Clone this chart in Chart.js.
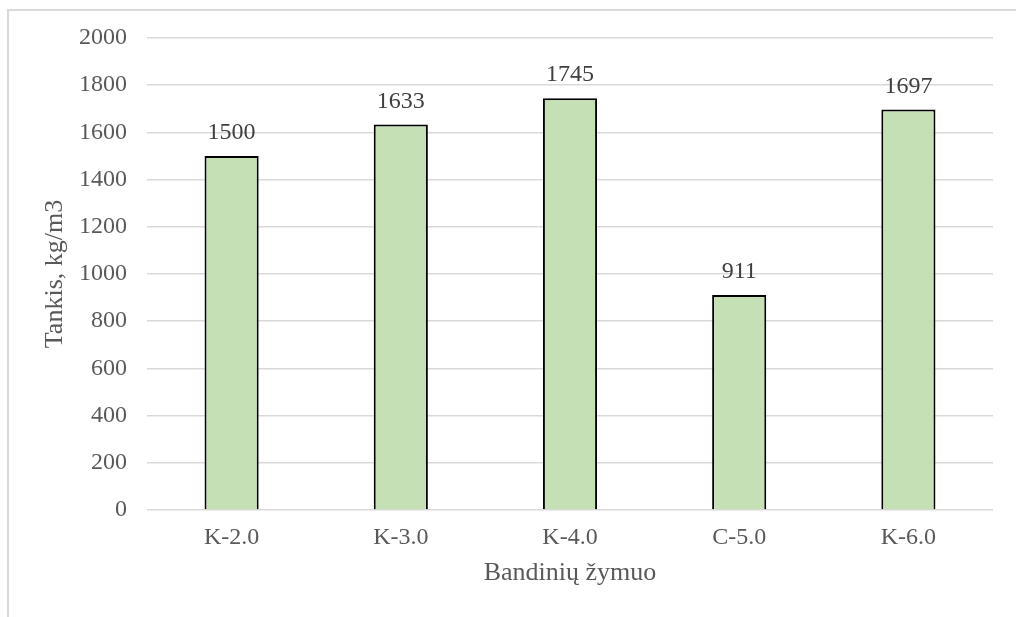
<!DOCTYPE html>
<html>
<head>
<meta charset="utf-8">
<script src="https://cdn.jsdelivr.net/npm/chart.js@4.4.1/dist/chart.umd.min.js"></script>
<style>
  html, body { margin: 0; padding: 0; background: #fff; }
  #frame {
    position: absolute; left: 7px; top: 9px; right: 0; bottom: 0;
    border-left: 2px solid #d9d9d9; border-top: 2px solid #d9d9d9;
  }
  #wrap { position: absolute; left: 0; top: 0; width: 1016px; height: 617px; }
</style>
</head>
<body>
<div id="frame"></div>
<div id="wrap"><canvas id="density-chart" width="1016" height="617"></canvas></div>
<script>
  'use strict';

  const samples = ['K-2.0', 'K-3.0', 'K-4.0', 'C-5.0', 'K-6.0'];
  const density = [1500, 1633, 1745, 911, 1697];
  const yMin = 0;
  const yMax = 2000;
  const yStep = 200;

  const serif = '"Liberation Serif", "Times New Roman", serif';

  // value printed above each bar
  const valueLabels = {
    id: 'valueLabels',
    afterDatasetsDraw(chart) {
      const ctx = chart.ctx;
      const meta = chart.getDatasetMeta(0);
      ctx.save();
      ctx.font = '24px ' + serif;
      ctx.fillStyle = '#404040';
      ctx.textAlign = 'center';
      ctx.textBaseline = 'alphabetic';
      meta.data.forEach((bar, i) => {
        ctx.fillText(String(density[i]), bar.x, bar.y - 17);
      });
      ctx.restore();
    }
  };

  new Chart(document.getElementById('density-chart'), {
    type: 'bar',
    data: {
      labels: samples,
      datasets: [{
        data: density,
        backgroundColor: '#c5e0b4',
        borderColor: '#000000',
        borderWidth: 2,
        barPercentage: 1,
        categoryPercentage: 0.32
      }]
    },
    options: {
      responsive: false,
      animation: false,
      layout: {
        padding: { left: 0, top: 38, right: 23, bottom: 0 }
      },
      plugins: {
        legend: { display: false },
        tooltip: { enabled: false }
      },
      scales: {
        x: {
          grid: { display: false },
          border: { display: false },
          ticks: {
            color: '#595959',
            font: { family: serif, size: 24 },
            padding: 5
          },
          title: {
            display: true,
            text: 'Bandinių žymuo',
            color: '#595959',
            font: { family: serif, size: 26 },
            padding: { top: 0, bottom: 28 }
          },
          afterFit(scale) { scale.height = 107; }
        },
        y: {
          min: yMin,
          max: yMax,
          grid: {
            color: '#d9d9d9',
            lineWidth: 1.5,
            drawTicks: false
          },
          border: { display: false },
          ticks: {
            stepSize: yStep,
            color: '#595959',
            font: { family: serif, size: 24 },
            padding: 20,
            callback: (value) => String(value)
          },
          title: {
            display: true,
            text: 'Tankis, kg/m3',
            color: '#595959',
            font: { family: serif, size: 26 },
            padding: { top: 40, bottom: 0 }
          },
          afterFit(scale) { scale.width = 147; }
        }
      }
    },
    plugins: [valueLabels]
  });
</script>
</body>
</html>
